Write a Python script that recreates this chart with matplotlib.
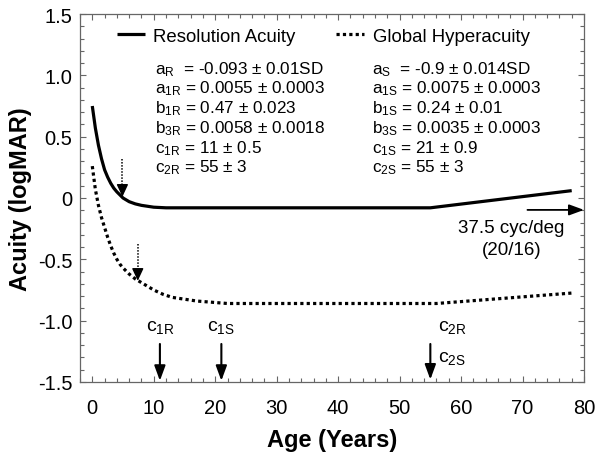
import matplotlib
matplotlib.use("Agg")
import matplotlib.pyplot as plt
from matplotlib.ticker import MultipleLocator

plt.rcParams['font.family'] = ['Liberation Sans', 'DejaVu Sans']
plt.rcParams['mathtext.fontset'] = 'custom'
plt.rcParams['mathtext.rm'] = 'Liberation Sans'
plt.rcParams['mathtext.it'] = 'Liberation Sans:italic'

# ---- data ----
res_age = [0, 0.5, 1, 1.5, 2, 2.5, 3, 3.5, 4, 5, 6, 7, 8, 10, 12, 55, 78]
res_val = [0.75, 0.57, 0.43, 0.32, 0.23, 0.17, 0.12, 0.08, 0.05, 0.0, -0.03, -0.048,
           -0.06, -0.075, -0.08, -0.08, 0.06]

hyp_age = [0, 0.5, 1, 1.5, 2, 2.5, 3, 3.5, 4, 4.5, 5, 6, 7, 8, 9, 10, 11.5, 13, 17, 22, 56, 78]
hyp_val = [0.26, 0.07, -0.06, -0.16, -0.24, -0.32, -0.39, -0.45, -0.50, -0.54, -0.57,
           -0.62, -0.66, -0.69, -0.72, -0.75, -0.785, -0.81, -0.84, -0.86, -0.86, -0.775]

series_labels = ['Resolution Acuity', 'Global Hyperacuity']

x_ticks = [0, 10, 20, 30, 40, 50, 60, 70, 80]
y_ticks = [-1.5, -1.0, -0.5, 0, 0.5, 1.0, 1.5]
y_tick_labels = ['-1.5', '-1.0', '-0.5', '0', '0.5', '1.0', '1.5']

left_params = [r'$\mathregular{a_R}$  = -0.093 ± 0.01SD',
               r'$\mathregular{a_{1R}}$ = 0.0055 ± 0.0003',
               r'$\mathregular{b_{1R}}$ = 0.47 ± 0.023',
               r'$\mathregular{b_{3R}}$ = 0.0058 ± 0.0018',
               r'$\mathregular{c_{1R}}$ = 11 ± 0.5',
               r'$\mathregular{c_{2R}}$ = 55 ± 3']
right_params = [r'$\mathregular{a_S}$  = -0.9 ± 0.014SD',
                r'$\mathregular{a_{1S}}$ = 0.0075 ± 0.0003',
                r'$\mathregular{b_{1S}}$ = 0.24 ± 0.01',
                r'$\mathregular{b_{3S}}$ = 0.0035 ± 0.0003',
                r'$\mathregular{c_{1S}}$ = 21 ± 0.9',
                r'$\mathregular{c_{2S}}$ = 55 ± 3']

c1R, c1S, c2 = 11, 21, 55
ref_level = -0.097  # 20/16

# ---- figure ----
fig = plt.figure(figsize=(6, 4.56), dpi=100)
ax = fig.add_axes([80/600, 1-383/456, 504/600, 368/456])

ax.plot(res_age, res_val, color='k', lw=2.3, solid_capstyle='butt', solid_joinstyle='round',
        label=series_labels[0])
ax.plot(hyp_age, hyp_val, color='k', lw=2.3, linestyle=(0, (1, 1)), dash_capstyle='butt',
        label=series_labels[1])

ax.set_xlim(-2, 80)
ax.set_ylim(-1.5, 1.5)
ax.set_xticks(x_ticks)
ax.set_yticks(y_ticks)
ax.set_yticklabels(y_tick_labels)
ax.xaxis.set_minor_locator(MultipleLocator(2))
ax.yaxis.set_minor_locator(MultipleLocator(0.1))
ax.tick_params(which='both', direction='in', top=True, right=True, color='#666666',
               labelsize=14.5, width=0.8)
ax.tick_params(which='major', length=4)
ax.tick_params(which='minor', length=3)
ax.tick_params(axis='x', which='major', pad=11.5)
ax.tick_params(axis='y', which='major', pad=5.5)
for s in ax.spines.values():
    s.set_color('#666666')
    s.set_linewidth(0.9)

ax.set_xlabel('Age (Years)', fontsize=17, fontweight='bold', labelpad=8)
ax.set_ylabel('Acuity (logMAR)', fontsize=17, fontweight='bold', labelpad=4)

leg = ax.legend(ncol=2, loc='upper left', bbox_to_anchor=(0.073, 0.962), frameon=False,
                handlelength=1.5, handletextpad=0.45, columnspacing=2.2,
                borderpad=0, borderaxespad=0, fontsize=13.4)

# parameter blocks
for i, (lt, rt) in enumerate(zip(left_params, right_params)):
    ypx = 74 + 19.7 * i
    yf = (383 - ypx) / 368
    ax.text((155 - 80) / 504, yf, lt, transform=ax.transAxes, fontsize=12.3, va='baseline', ha='left')
    ax.text((372 - 80) / 504, yf, rt, transform=ax.transAxes, fontsize=12.3, va='baseline', ha='left')

# solid arrows to the age axis
head = dict(arrowstyle='-|>,head_length=0.9,head_width=0.33', color='k', lw=1.5,
            shrinkA=0, shrinkB=0, mutation_scale=10)
for xc in (c1R, c1S):
    ax.annotate('', xy=(xc, -1.49), xytext=(xc, -1.19), arrowprops=head)
ax.annotate('', xy=(c2, -1.48), xytext=(c2, -1.19), arrowprops=head)

ax.text(c1R, -1.05, r'$\mathregular{c_{1R}}$', fontsize=14, ha='center', va='center')
ax.text(c1S, -1.05, r'$\mathregular{c_{1S}}$', fontsize=14, ha='center', va='center')
ax.text(56.2, -1.05, r'$\mathregular{c_{2R}}$', fontsize=14, ha='left', va='center')
ax.text(56.2, -1.30, r'$\mathregular{c_{2S}}$', fontsize=14, ha='left', va='center')

# dotted arrows
small_head = dict(arrowstyle='-|>,head_length=0.75,head_width=0.35', color='k', lw=1,
                  shrinkA=0, shrinkB=0, mutation_scale=10)
for xa, ytop, ytip in ((4.9, 0.32, 0.01), (7.4, -0.375, -0.675)):
    ax.plot([xa, xa], [ytop, ytip + 0.06], color='k', lw=1.1, linestyle=(0, (1, 1)))
    ax.annotate('', xy=(xa, ytip), xytext=(xa, ytip + 0.09), arrowprops=small_head)

# reference arrow
ax.annotate('', xy=(80, ref_level), xytext=(70.8, ref_level),
            arrowprops=dict(arrowstyle='-|>,head_length=0.9,head_width=0.33', color='k',
                            lw=1.3, shrinkA=0, shrinkB=0, mutation_scale=10),
            annotation_clip=False)
ax.text(68.2, -0.24, '37.5 cyc/deg', fontsize=13.5, ha='center', va='center')
ax.text(68.2, -0.42, '(20/16)', fontsize=13.5, ha='center', va='center')

fig.savefig('out.png', dpi=100)
